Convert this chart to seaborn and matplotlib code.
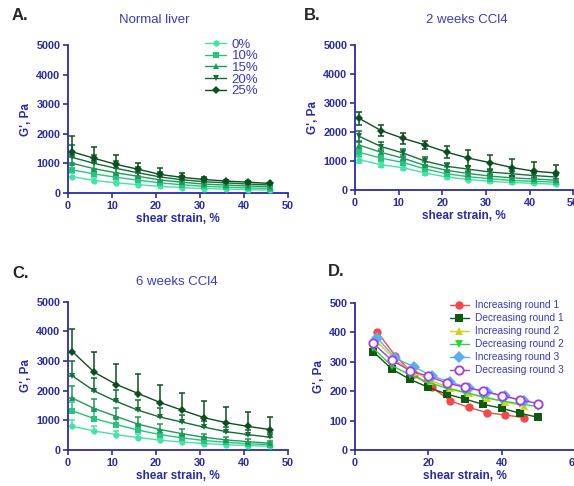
import numpy as np
import pandas as pd
import matplotlib
matplotlib.use("Agg")
import matplotlib.pyplot as plt
import seaborn as sns

# shear strain points for panels A-C
strain = [1, 6, 11, 16, 21, 26, 31, 36, 41, 46]
groups = ['0%', '10%', '15%', '20%', '25%']

# A. Normal liver
normal = {
    '0%':  [550, 420, 340, 280, 220, 180, 150, 130, 110, 95],
    '10%': [780, 640, 530, 430, 340, 275, 225, 195, 170, 150],
    '15%': [1000, 820, 680, 560, 440, 360, 300, 265, 235, 210],
    '20%': [1200, 1000, 830, 680, 540, 445, 380, 340, 300, 270],
    '25%': [1390, 1170, 965, 800, 625, 525, 455, 400, 365, 320],
}
normal_err = {
    '0%':  [120, 90, 80, 60, 50, 40, 30, 25, 20, 20],
    '10%': [200, 150, 120, 100, 80, 60, 45, 35, 30, 25],
    '15%': [300, 230, 180, 140, 110, 90, 60, 40, 30, 25],
    '20%': [420, 300, 250, 190, 160, 120, 70, 40, 30, 25],
    '25%': [540, 370, 335, 230, 205, 155, 70, 35, 25, 20],
}

# B. 2 weeks CCl4
weeks2 = {
    '0%':  [1050, 870, 770, 590, 450, 360, 300, 260, 230, 200],
    '10%': [1300, 1100, 950, 730, 560, 460, 390, 330, 300, 270],
    '15%': [1550, 1300, 1100, 850, 680, 570, 480, 420, 380, 340],
    '20%': [1850, 1500, 1280, 1000, 820, 720, 620, 560, 500, 450],
    '25%': [2470, 2050, 1785, 1560, 1310, 1100, 945, 775, 650, 590],
}
weeks2_err = {
    '0%':  [100, 90, 80, 70, 60, 50, 45, 40, 35, 30],
    '10%': [130, 110, 100, 90, 80, 70, 60, 50, 45, 40],
    '15%': [150, 130, 120, 110, 100, 90, 80, 70, 60, 55],
    '20%': [180, 150, 140, 130, 120, 110, 100, 90, 80, 70],
    '25%': [230, 180, 185, 140, 200, 265, 250, 285, 305, 260],
}

# C. 6 weeks CCl4
weeks6 = {
    '0%':  [800, 640, 520, 420, 330, 270, 220, 180, 150, 130],
    '10%': [1320, 1060, 860, 670, 520, 410, 320, 260, 210, 180],
    '15%': [1750, 1400, 1130, 870, 690, 550, 430, 340, 280, 230],
    '20%': [2500, 1990, 1640, 1340, 1110, 940, 770, 620, 520, 430],
    '25%': [3320, 2620, 2210, 1905, 1600, 1340, 1090, 920, 795, 690],
}
weeks6_err = {
    '0%':  [200, 160, 130, 110, 90, 70, 60, 50, 40, 35],
    '10%': [300, 250, 210, 170, 140, 110, 90, 70, 60, 50],
    '15%': [400, 330, 280, 230, 190, 150, 120, 100, 80, 70],
    '20%': [520, 450, 400, 350, 300, 250, 200, 170, 150, 130],
    '25%': [760, 680, 680, 655, 600, 585, 550, 530, 485, 440],
}

# D. repeated strain sweeps
rounds = ['Increasing round 1', 'Decreasing round 1', 'Increasing round 2',
          'Decreasing round 2', 'Increasing round 3', 'Decreasing round 3']
strain_inc = [6, 11, 16, 21, 26, 31, 36, 41, 46]
strain_dec = [5, 10, 15, 20, 25, 30, 35, 40, 45, 50]
sweep_x = {
    'Increasing round 1': strain_inc,
    'Decreasing round 1': strain_dec,
    'Increasing round 2': strain_inc,
    'Decreasing round 2': strain_dec,
    'Increasing round 3': strain_inc,
    'Decreasing round 3': strain_dec,
}
sweep_y = {
    'Increasing round 1': [402, 320, 258, 213, 167, 145, 127, 119, 110],
    'Decreasing round 1': [334, 275, 240, 213, 190, 173, 155, 142, 125, 111],
    'Increasing round 2': [368, 305, 265, 235, 210, 193, 178, 163, 150],
    'Decreasing round 2': [345, 287, 255, 230, 210, 195, 180, 167, 157, 147],
    'Increasing round 3': [382, 312, 283, 252, 230, 212, 196, 182, 168],
    'Decreasing round 3': [362, 305, 270, 250, 228, 213, 200, 185, 170, 158],
}

green_pal = ['#45e3a6', '#26c47c', '#1e9a58', '#136d36', '#0b4f1e']
green_marks = ['o', 's', '^', 'v', 'D']
d_pal = ['#f54848', '#0c5a12', '#d2d020', '#2fd43a', '#5aaef0', '#a53ae6']
d_marks = ['o', 's', '^', 'v', 'D', 'o']

axis_col = '#2b2ba8'
text_col = '#3b3bc0'

sns.set_style("ticks")
plt.rcParams['font.family'] = ['Liberation Sans', 'DejaVu Sans']

fig = plt.figure(figsize=(5.74, 4.86), dpi=100)
axA = fig.add_axes([0.1185, 0.603, 0.383, 0.304])
axB = fig.add_axes([0.6185, 0.609, 0.380, 0.298])
axC = fig.add_axes([0.1185, 0.074, 0.383, 0.305])
axD = fig.add_axes([0.6185, 0.074, 0.383, 0.303])


def style_axis(ax, xmax, ymax, xstep, ystep):
    ax.set_xlim(0, xmax)
    ax.set_ylim(0, ymax)
    ax.set_xticks(np.arange(0, xmax + 1, xstep))
    ax.set_yticks(np.arange(0, ymax + 1, ystep))
    sns.despine(ax=ax)
    for s in ['left', 'bottom']:
        ax.spines[s].set_color(axis_col)
        ax.spines[s].set_linewidth(1.3)
    ax.tick_params(colors=axis_col, length=3.5, width=1.2, labelsize=7.8, pad=2)
    for lab in ax.get_xticklabels() + ax.get_yticklabels():
        lab.set_fontweight('bold')
        lab.set_color(axis_col)
    ax.set_xlabel('shear strain, %', fontsize=8.5, fontweight='bold', color=axis_col, labelpad=2)
    ax.set_ylabel("G', Pa", fontsize=8.5, fontweight='bold', color=axis_col, labelpad=3)


def stiffness_panel(ax, values, errs, both_sides, show_legend):
    rows = []
    for g in groups:
        for x, y in zip(strain, values[g]):
            rows.append({'strain': x, 'G': y, 'group': g})
    df = pd.DataFrame(rows)
    for g, c in zip(groups, green_pal):
        e = np.array(errs[g])
        yerr = e if both_sides else [np.zeros_like(e), e]
        ax.errorbar(strain, values[g], yerr=yerr, fmt='none', ecolor=c,
                    elinewidth=1.1, capsize=2.5, capthick=1.1, clip_on=False, zorder=2)
    sns.lineplot(data=df, x='strain', y='G', hue='group', style='group',
                 hue_order=groups, style_order=groups, palette=green_pal,
                 markers=green_marks, dashes=False, markersize=4.5, linewidth=1,
                 markeredgewidth=0, ax=ax, legend=show_legend, zorder=3, clip_on=False)
    style_axis(ax, 50, 5000, 10, 1000)
    if show_legend:
        h, l = ax.get_legend_handles_labels()
        leg = ax.legend(h, l, loc='upper left', bbox_to_anchor=(0.6, 1.08), frameon=False,
                        fontsize=9.5, labelspacing=-0.05, handlelength=1.6, handletextpad=0.4,
                        borderaxespad=0)
        for t in leg.get_texts():
            t.set_color(text_col)
    elif ax.get_legend() is not None:
        ax.get_legend().remove()


stiffness_panel(axA, normal, normal_err, False, True)
stiffness_panel(axB, weeks2, weeks2_err, True, False)
stiffness_panel(axC, weeks6, weeks6_err, False, False)

# panel D
rows = []
for r in rounds:
    for x, y in zip(sweep_x[r], sweep_y[r]):
        rows.append({'strain': x, 'G': y, 'round': r})
dfD = pd.DataFrame(rows)
sns.lineplot(data=dfD, x='strain', y='G', hue='round', style='round',
             hue_order=rounds, style_order=rounds, palette=d_pal, markers=d_marks,
             dashes=False, markersize=6, linewidth=1, markeredgewidth=0,
             ax=axD, clip_on=False)
style_axis(axD, 60, 500, 20, 100)
h, l = axD.get_legend_handles_labels()
# open purple circles for the last sweep
for line in list(axD.lines) + list(h):
    if hasattr(line, 'get_color') and line.get_color() == d_pal[5]:
        line.set_markerfacecolor('white')
        line.set_markeredgecolor(d_pal[5])
        line.set_markeredgewidth(1.3)
legD = axD.legend(h, l, loc='upper left', bbox_to_anchor=(0.415, 1.045), frameon=False,
                  fontsize=7.3, labelspacing=0.3, handlelength=1.8, handletextpad=0.6,
                  borderaxespad=0)
for t in legD.get_texts():
    t.set_color(text_col)

# titles and panel letters
fig.text(154 / 574, 1 - 20 / 486, 'Normal liver', ha='center', va='center', fontsize=9.5, color=text_col)
fig.text(467 / 574, 1 - 20 / 486, '2 weeks CCl4', ha='center', va='center', fontsize=9.5, color=text_col)
fig.text(177 / 574, 1 - 282 / 486, '6 weeks CCl4', ha='center', va='center', fontsize=9.5, color=text_col)
fig.text(12 / 574, 1 - 16 / 486, 'A.', ha='left', va='center', fontsize=12, fontweight='bold')
fig.text(304 / 574, 1 - 16 / 486, 'B.', ha='left', va='center', fontsize=12, fontweight='bold')
fig.text(12 / 574, 1 - 273 / 486, 'C.', ha='left', va='center', fontsize=12, fontweight='bold')
fig.text(328 / 574, 1 - 272 / 486, 'D.', ha='left', va='center', fontsize=12, fontweight='bold')

fig.savefig('out.png', dpi=100)
